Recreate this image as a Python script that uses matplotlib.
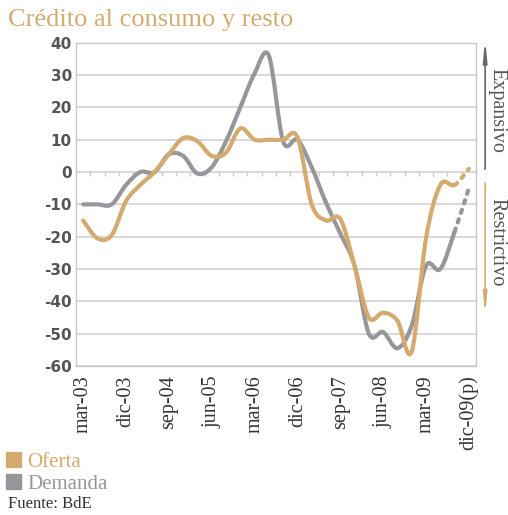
import numpy as np
import matplotlib.pyplot as plt
from matplotlib.path import Path
from matplotlib.patches import PathPatch, Patch

# trimestres de la encuesta (BdE)
trimestres = ['mar-03', 'jun-03', 'sep-03', 'dic-03',
              'mar-04', 'jun-04', 'sep-04', 'dic-04',
              'mar-05', 'jun-05', 'sep-05', 'dic-05',
              'mar-06', 'jun-06', 'sep-06', 'dic-06',
              'mar-07', 'jun-07', 'sep-07', 'dic-07',
              'mar-08', 'jun-08', 'sep-08', 'dic-08',
              'mar-09', 'jun-09', 'sep-09', 'dic-09(p)']

oferta = [-15, -20.5, -19.5, -9, -4, 0, 5.5, 10.5, 9.5, 5, 6, 13.5, 10, 10,
          10, 10.8, -10, -15, -14.5, -29, -45, -43.5, -46, -55.5, -20.5, -4, -4, 1]
demanda = [-10, -10, -10, -4, 0, 0, 5.5, 5, -0.5, 1.5, 9.5, 20, 30.5, 36,
           9.5, 10, 1.5, -9.5, -19, -29, -50, -49.5, -54.5, -47.5, -29, -30, -18.5, -5]

yticks = list(range(-60, 41, 10))

c_of = '#D5AA6E'
c_dem = '#96969B'
c_txt = '#555555'
serif = 'Liberation Serif'


def curva(y, i0, i1):
    # curva suavizada (Bezier tipo Excel) entre los puntos i0..i1
    pts = np.column_stack([np.arange(len(y)), np.asarray(y, dtype=float)])
    n = len(pts)
    verts = [pts[i0]]
    codes = [Path.MOVETO]
    for i in range(i0, i1):
        p0 = pts[max(i - 1, 0)]
        p1 = pts[i]
        p2 = pts[i + 1]
        p3 = pts[min(i + 2, n - 1)]
        verts += [p1 + (p2 - p0) / 6, p2 - (p3 - p1) / 6, p2]
        codes += [Path.CURVE4] * 3
    return Path(verts, codes)


fig = plt.figure(figsize=(5.08, 5.15), dpi=100)
ax = fig.add_axes([0.1496, 0.2893, 0.7874, 0.6277])

n = len(trimestres)
ax.set_xlim(-0.5, n - 0.5)
ax.set_ylim(-60, 40)

for v in yticks:
    ax.axhline(v, color='#d2d2d2', lw=1.2, zorder=1)
# marcas en el eje cero
ax.vlines(np.arange(0.5, n - 1, 1), -1.2, 0, color='#c8c8c8', lw=1, zorder=1)

for serie, color in [(demanda, c_dem), (oferta, c_of)]:
    ax.add_patch(PathPatch(curva(serie, 0, n - 2), fill=False, edgecolor=color,
                           lw=3, capstyle='round', joinstyle='round', zorder=3))
    ax.add_patch(PathPatch(curva(serie, n - 2, n - 1), fill=False, edgecolor=color,
                           lw=3, linestyle=(0, (0.8, 1.6)), capstyle='round', zorder=3))

for s in ax.spines.values():
    s.set_color('#c8c8c8')
    s.set_linewidth(1)

ax.set_yticks(yticks)
ax.set_yticklabels([str(v) for v in yticks], fontsize=11, fontweight='bold',
                   color=c_txt, family='DejaVu Sans')
ax.set_xticks(range(0, n, 3))
ax.set_xticklabels(trimestres[::3], rotation=90, fontsize=14.5, color='#333333',
                   family=serif)
ax.tick_params(axis='both', length=0)
ax.tick_params(axis='y', pad=3)
ax.tick_params(axis='x', pad=7)

fig.text(0.016, 1 - 26 / 515, 'Crédito al consumo y resto', fontsize=19,
         color=c_of, family=serif, va='baseline')

# flechas laterales
ax.annotate('', xy=(0.955, 0.928), xytext=(0.955, 0.666), xycoords='figure fraction',
            arrowprops=dict(arrowstyle='-|>,head_length=1.2,head_width=0.12',
                            color='#666666', lw=1.2))
ax.annotate('', xy=(0.955, 0.384), xytext=(0.955, 0.650), xycoords='figure fraction',
            arrowprops=dict(arrowstyle='-|>,head_length=1.2,head_width=0.12',
                            color=c_of, lw=1.2))
fig.text(0.978, 1 - 110 / 515, 'Expansivo', rotation=270, fontsize=14.5,
         color=c_txt, family=serif, ha='center', va='center')
fig.text(0.978, 1 - 242 / 515, 'Restrictivo', rotation=270, fontsize=14.5,
         color=c_txt, family=serif, ha='center', va='center')

leg = ax.legend(handles=[Patch(color=c_of, label='Oferta'),
                         Patch(color=c_dem, label='Demanda')],
                loc='upper left', bbox_to_anchor=(0.012, 1 - 452 / 515),
                bbox_transform=fig.transFigure, frameon=False,
                prop={'family': serif, 'size': 15}, handlelength=0.72,
                handleheight=0.72, handletextpad=0.3, labelspacing=0.12,
                borderpad=0, borderaxespad=0)
for t, c in zip(leg.get_texts(), [c_of, c_dem]):
    t.set_color(c)

fig.text(0.016, 3 / 515, 'Fuente: BdE', fontsize=12, color='#333333',
         family=serif, va='bottom')

fig.savefig('out.png', dpi=100)
